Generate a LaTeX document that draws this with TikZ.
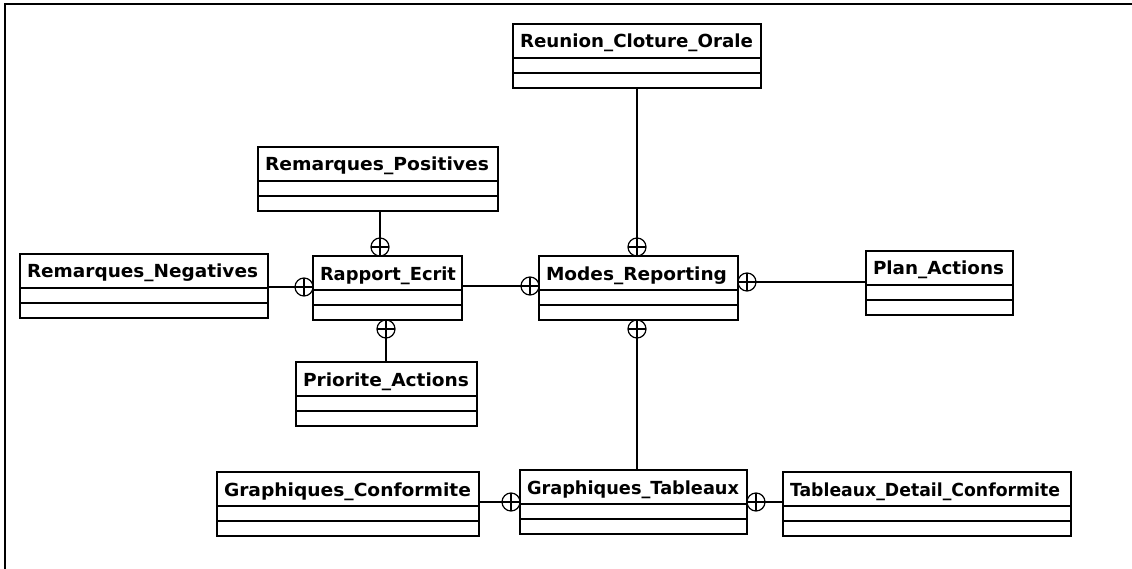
\documentclass[tikz,border=0pt]{standalone}
\usepackage{fontspec}
\setmainfont{DejaVu Sans}
\usetikzlibrary{calc}

\tikzset{
  classbox/.style={draw, line width=1.6pt, rectangle, minimum height=64pt,
    inner sep=0pt, outer sep=0pt},
  classtitle/.style={inner sep=0pt, outer sep=0pt,
    font=\fontsize{18}{20}\selectfont\bfseries},
  classline/.style={line width=1.5pt},
  link/.style={line width=1.3pt},
  agg/.style={draw, circle, line width=1.2pt, minimum size=18pt, inner sep=0pt,
    outer sep=0pt, fill=white,
    path picture={\draw[line width=1.2pt]
      (path picture bounding box.north) -- (path picture bounding box.south)
      (path picture bounding box.west) -- (path picture bounding box.east);}},
  frameline/.style={line width=2pt}
}

% class box: name, left, top, width, title width, title
\newcommand\umlclass[6]{%
  \node[classbox, minimum width=#4pt, anchor=north west] (#1) at (#2,#3) {};
  \node[classtitle, anchor=base west] (#1-title) at ($(#1.north west)+(7,24)$)
    {\resizebox{#5pt}{\height}{#6}};
  \draw[classline] ($(#1.north west)+(0,34)$) -- ($(#1.north east)+(0,34)$);
  \draw[classline] ($(#1.north west)+(0,49)$) -- ($(#1.north east)+(0,49)$);
}

\begin{document}
\begin{tikzpicture}[x=1pt,y=-1pt]
\useasboundingbox (0,0) rectangle (1132,569);

% outer frame
\draw[frameline] (5,569) -- (5,4) -- (1132,4);

% classes
\umlclass{reunion}{513}{24}{248}{233}{Reunion\_Cloture\_Orale}
\umlclass{rpos}{258}{147}{240}{224}{Remarques\_Positives}
\umlclass{rapport}{313}{256}{149}{136}{Rapport\_Ecrit}
\umlclass{rneg}{20}{254}{248}{231}{Remarques\_Negatives}
\umlclass{modes}{539}{256}{199}{181}{Modes\_Reporting}
\umlclass{plan}{866}{251}{147}{131}{Plan\_Actions}
\umlclass{prio}{296}{362}{181}{166}{Priorite\_Actions}
\umlclass{gconf}{217}{472}{262}{247}{Graphiques\_Conformite}
\umlclass{gtab}{520}{470}{227}{212}{Graphiques\_Tableaux}
\umlclass{tdet}{783}{472}{288}{270}{Tableaux\_Detail\_Conformite}

% composition markers
\node[agg] (a-rapport-w) at (304,287) {};
\node[agg] (a-rapport-n) at (380,247) {};
\node[agg] (a-rapport-s) at (386,329) {};
\node[agg] (a-modes-w) at (530,286) {};
\node[agg] (a-modes-n) at (637,247) {};
\node[agg] (a-modes-e) at (747,282) {};
\node[agg] (a-modes-s) at (637,329) {};
\node[agg] (a-gtab-w) at (511,502) {};
\node[agg] (a-gtab-e) at (756,502) {};

% connectors
\draw[link] (a-rapport-w.west) -- (a-rapport-w.west -| rneg.east);
\draw[link] (a-rapport-n.north) -- (a-rapport-n.north |- rpos.south);
\draw[link] (a-rapport-s.south) -- (a-rapport-s.south |- prio.north);
\draw[link] (a-modes-w.west) -- (a-modes-w.west -| rapport.east);
\draw[link] (a-modes-n.north) -- (a-modes-n.north |- reunion.south);
\draw[link] (a-modes-e.east) -- (a-modes-e.east -| plan.west);
\draw[link] (a-modes-s.south) -- (a-modes-s.south |- gtab.north);
\draw[link] (a-gtab-w.west) -- (a-gtab-w.west -| gconf.east);
\draw[link] (a-gtab-e.east) -- (a-gtab-e.east -| tdet.west);
\end{tikzpicture}
\end{document}
